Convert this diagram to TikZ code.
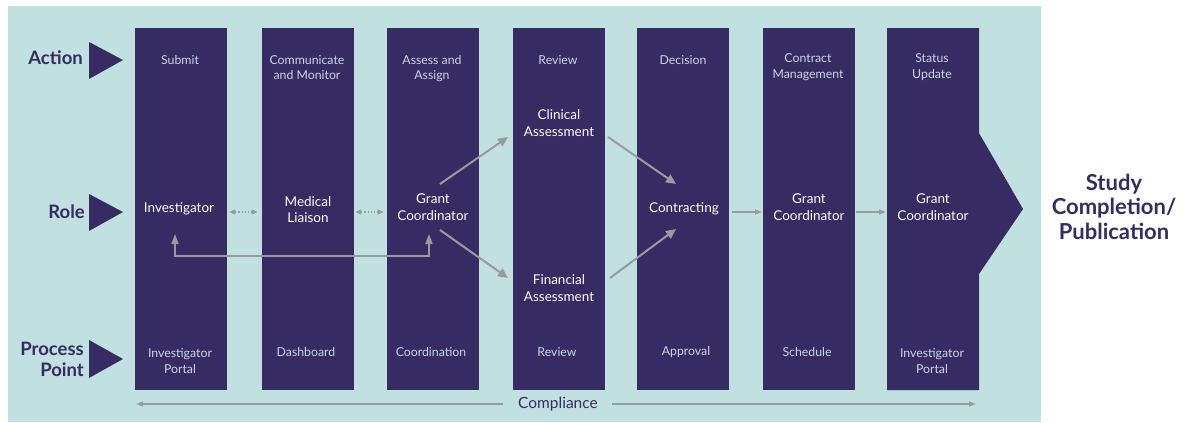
\documentclass[tikz,border=0pt]{standalone}
\usepackage{fontspec}
\setmainfont{Lato}
\usetikzlibrary{arrows.meta}
\definecolor{bgteal}{HTML}{C1E0E0}
\definecolor{navy}{HTML}{362B62}
\definecolor{soft}{HTML}{CAD8E6}
\definecolor{arrgray}{HTML}{9B9B9E}
\tikzset{
  colbox/.style={fill=navy, minimum width=92pt, minimum height=362pt, inner sep=0pt, draw=none},
  acttxt/.style={text=soft, font=\fontsize{12.3}{15.5}\selectfont, align=center, inner sep=0pt},
  roletxt/.style={text=white, font=\fontsize{13.5}{16.5}\selectfont, align=center, inner sep=0pt},
  sidelab/.style={text=navy, font=\bfseries\fontsize{18.5}{21}\selectfont, align=right, inner sep=0pt, anchor=east},
  tri/.style={fill=navy},
  bigarr/.style={draw=arrgray, line width=2pt, -{Triangle[length=10pt,width=9pt]}},
  thinarr/.style={draw=arrgray, line width=1.3pt, -{Triangle[length=7pt,width=5pt]}},
  dotarr/.style={draw=arrgray, line width=1.3pt, dotted, {Triangle[length=6pt,width=5pt,sep]}-{Triangle[length=6pt,width=5pt,sep]}},
}
\begin{document}
\begin{tikzpicture}[x=1pt,y=-1pt]
\useasboundingbox (0,0) rectangle (1187,423);
\fill[bgteal] (8,6) rectangle (1041,422);

% columns
\node[colbox] (c1) at (181,209) {};
\node[colbox] (c2) at (308,209) {};
\node[colbox] (c3) at (433,209) {};
\node[colbox] (c4) at (559,209) {};
\node[colbox] (c5) at (683,209) {};
\node[colbox] (c6) at (809,209) {};
\fill[navy] (887,28) -- (979,28) -- (979,133) -- (1023,209) -- (979,274) -- (979,390) -- (887,390) -- cycle;
\coordinate (c7) at (933,209);

% side labels and triangles
\node[sidelab] (lact) at (83,58) {Action};
\fill[tri] (89,42) -- (123,60) -- (89,79) -- cycle;
\node[sidelab] (lrole) at (85,212) {Role};
\fill[tri] (89,194) -- (123,212) -- (89,231) -- cycle;
\node[sidelab] (lproc) at (84,359) {Process\\Point};
\fill[tri] (89,340) -- (123,359) -- (89,378) -- cycle;

% action row
\node[acttxt] (a1) at (180,60) {Submit};
\node[acttxt] (a2) at (307,67.5) {Communicate\\and Monitor};
\node[acttxt] (a3) at (432,68.5) {Assess and\\Assign};
\node[acttxt] (a4) at (558,60) {Review};
\node[acttxt] (a5) at (683,60) {Decision};
\node[acttxt] (a6) at (808,67) {Contract\\Management};
\node[acttxt] (a7) at (932,67) {Status\\Update};

% role row
\node[roletxt] (r1) at (179,209) {Investigator};
\node[roletxt] (r2) at (308,209.5) {Medical\\Liaison};
\node[roletxt] (r3) at (433,207) {Grant\\Coordinator};
\node[roletxt] (r4a) at (559,123) {Clinical\\Assessment};
\node[roletxt] (r4b) at (559,288) {Financial\\Assessment};
\node[roletxt] (r5) at (684,209) {Contracting};
\node[roletxt] (r6) at (809,207) {Grant\\Coordinator};
\node[roletxt] (r7) at (933,207) {Grant\\Coordinator};

% process row
\node[acttxt] (p1) at (180,361) {Investigator\\Portal};
\node[acttxt] (p2) at (306,352) {Dashboard};
\node[acttxt] (p3) at (431,352) {Coordination};
\node[acttxt] (p4) at (557,352) {Review};
\node[acttxt] (p5) at (686,352) {Approval};
\node[acttxt] (p6) at (807,352) {Schedule};
\node[acttxt] (p7) at (932,361) {Investigator\\Portal};

% end label
\node[text=navy, font=\bfseries\fontsize{22}{24.5}\selectfont, align=center, inner sep=0pt] (done) at (1114,206.5) {Study\\Completion/\\Publication};

% compliance
\node[text=navy, font=\fontsize{15.5}{18}\selectfont, inner sep=0pt] (comp) at (558,404) {Compliance};
\coordinate (compL) at (136,404);
\coordinate (compR) at (976,404);
\draw[thinarr] ([xshift=-15pt]comp.west) -- (compL);
\draw[thinarr] ([xshift=14pt]comp.east) -- (compR);

% dotted links
\coordinate (d1a) at (228,212); \coordinate (d1b) at (259,212);
\coordinate (d2a) at (354,212); \coordinate (d2b) at (385,212);
\draw[dotarr] (d1a) -- (d1b);
\draw[dotarr] (d2a) -- (d2b);

% feedback loop
\coordinate (fbA) at (175,234);
\coordinate (fbB) at (429,234);
\draw[draw=arrgray, line width=1.6pt, {Triangle[length=10pt,width=7pt]}-{Triangle[length=10pt,width=7pt]}] (fbA) -- (175,256) -- (429,256) -- (fbB);

% diagonal flows
\coordinate (gcU) at (440,184); \coordinate (clIn) at (508,137);
\coordinate (gcD) at (440,230); \coordinate (fiIn) at (508,278);
\coordinate (clOut) at (608,137); \coordinate (coInU) at (676,184);
\coordinate (fiOut) at (610,278); \coordinate (coInD) at (676,229);
\draw[bigarr] (gcU) -- (clIn);
\draw[bigarr] (gcD) -- (fiIn);
\draw[bigarr] (clOut) -- (coInU);
\draw[bigarr] (fiOut) -- (coInD);

% straight flows
\coordinate (s1a) at (732,212); \coordinate (s1b) at (762,212);
\coordinate (s2a) at (856,212); \coordinate (s2b) at (886,212);
\draw[thinarr] (s1a) -- (s1b);
\draw[thinarr] (s2a) -- (s2b);
\end{tikzpicture}
\end{document}
